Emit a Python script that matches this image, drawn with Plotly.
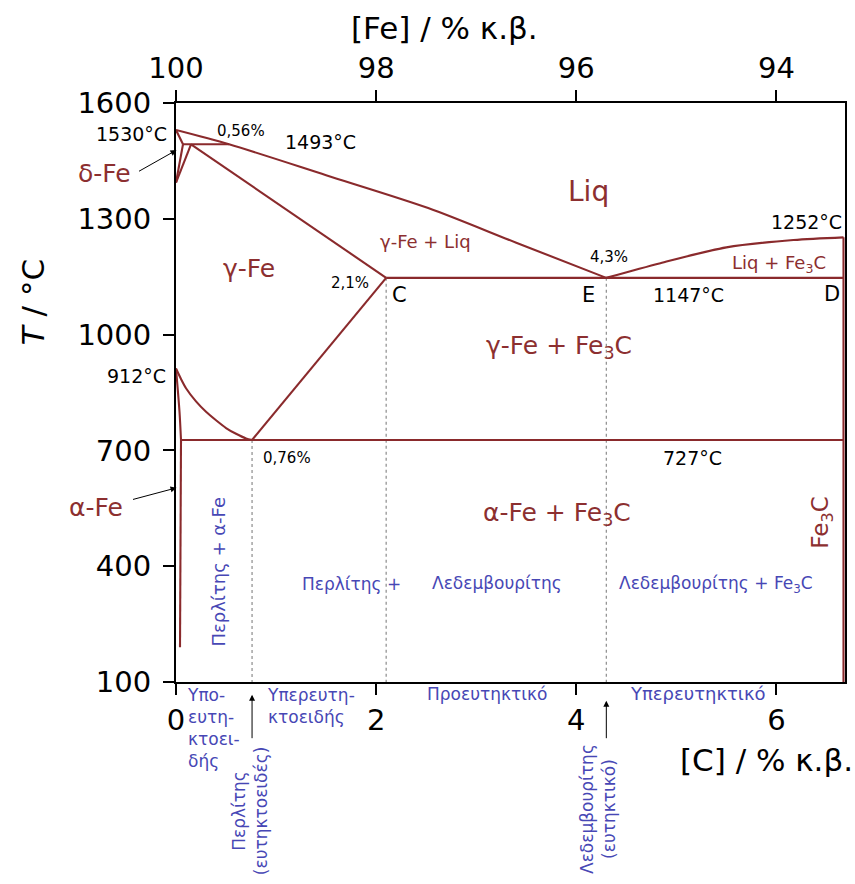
import plotly.graph_objects as go

# ---- Fe–Fe3C phase boundaries: carbon content (wt% C) and temperature (°C) ----
liquidus_gamma_c = [0.0, 0.53, 1.5, 2.52, 3.4, 4.3]
liquidus_gamma_t = [1530, 1493, 1413, 1328, 1238, 1147]

liquidus_fe3c_c = [4.3, 4.84, 5.5, 6.17, 6.67]
liquidus_fe3c_t = [1147, 1185, 1226, 1245, 1252]

delta_solidus_c = [0.0, 0.07]
delta_solidus_t = [1530, 1493]

delta_solvus_c = [0.07, 0.0]
delta_solvus_t = [1493, 1394]

gamma_delta_c = [0.15, 0.0]
gamma_delta_t = [1493, 1394]

peritectic_c = [0.07, 0.53]
peritectic_t = [1493, 1493]

gamma_solidus_c = [0.15, 2.1]
gamma_solidus_t = [1493, 1147]

eutectic_c = [2.1, 6.67]
eutectic_t = [1147, 1147]

a3_c = [0.0, 0.05, 0.1, 0.2, 0.3, 0.4, 0.5, 0.6, 0.7, 0.76]
a3_t = [912, 885, 861, 827, 800, 778, 758, 743, 731, 727]

acm_c = [0.76, 2.1]
acm_t = [727, 1147]

alpha_gamma_c = [0.0, 0.035, 0.05]
alpha_gamma_t = [912, 800, 727]

eutectoid_c = [0.05, 6.67]
eutectoid_t = [727, 727]

alpha_solvus_c = [0.05, 0.04]
alpha_solvus_t = [727, 190]

cementite_c = [6.67, 6.67]
cementite_t = [100, 1252]

# vertical guide compositions (eutectoid, max. solubility in γ, eutectic)
guide_c = [0.76, 2.1, 4.3]
guide_top_t = [727, 1147, 1147]

# axes
c_ticks = [0, 2, 4, 6]
fe_ticks = [100, 98, 96, 94]
t_ticks = [100, 400, 700, 1000, 1300, 1600]
c_max = 6.685
t_range = [100, 1600]

LINE = "#8A2A2C"
PHASE = "#8C2F30"
BLUE = "#4747B5"
FONT = "DejaVu Sans"

fig = go.Figure()

# (c, T, smooth?) for every boundary
boundaries = [
    (liquidus_gamma_c, liquidus_gamma_t, True),
    (liquidus_fe3c_c, liquidus_fe3c_t, True),
    (delta_solidus_c, delta_solidus_t, False),
    (delta_solvus_c, delta_solvus_t, False),
    (gamma_delta_c, gamma_delta_t, False),
    (peritectic_c, peritectic_t, False),
    (gamma_solidus_c, gamma_solidus_t, False),
    (eutectic_c, eutectic_t, False),
    (a3_c, a3_t, True),
    (acm_c, acm_t, False),
    (alpha_gamma_c, alpha_gamma_t, True),
    (eutectoid_c, eutectoid_t, False),
    (alpha_solvus_c, alpha_solvus_t, False),
    (cementite_c, cementite_t, False),
]

for c, t in zip(guide_c, guide_top_t):
    fig.add_trace(go.Scatter(x=[c, c], y=[t, t_range[0]], mode="lines",
                             line=dict(color="#8c8c8c", width=1.2, dash="dot"),
                             hoverinfo="skip", showlegend=False))

for cx, ty, smooth in boundaries:
    fig.add_trace(go.Scatter(x=cx, y=ty, mode="lines",
                             line=dict(color=LINE, width=2.1,
                                       shape="spline" if smooth else "linear",
                                       smoothing=0.8),
                             hoverinfo="skip", showlegend=False))

# invisible trace so the top [Fe] axis is drawn
fig.add_trace(go.Scatter(x=[fe_ticks[0]], y=[t_range[0]], xaxis="x2", mode="markers",
                         marker=dict(opacity=0), hoverinfo="skip", showlegend=False))

ann = []


def label(x, y, text, size, color="black", angle=0, xref="x", yref="y",
          xanchor="center", yanchor="middle", align="center"):
    ann.append(dict(x=x, y=y, xref=xref, yref=yref, text=text, showarrow=False,
                    font=dict(family=FONT, size=size, color=color), textangle=angle,
                    xanchor=xanchor, yanchor=yanchor, align=align))


# phase fields
label(4.12, 1372, "Liq", 28, PHASE)
label(0.73, 1172, "γ-Fe", 25, PHASE)
label(2.49, 1242, "γ-Fe + Liq", 18, PHASE)
label(6.03, 1183, "Liq + Fe<sub>3</sub>C", 18, PHASE)
label(3.83, 968, "γ-Fe + Fe<sub>3</sub>C", 25, PHASE)
label(3.81, 536, "α-Fe + Fe<sub>3</sub>C", 25, PHASE)
label(6.46, 514, "Fe<sub>3</sub>C", 23, PHASE, angle=-90)
label(-0.107, 0.8787, "δ-Fe", 25, PHASE, xref="paper", yref="paper")
label(-0.119, 0.3007, "α-Fe", 25, PHASE, xref="paper", yref="paper")

# invariant points and temperatures
label(-0.066, 0.946, "1530°C", 19, xref="paper", yref="paper")
label(0.645, 1528, "0,56%", 15)
label(1.44, 1499, "1493°C", 19)
label(1.74, 1134, "2,1%", 15)
label(2.23, 1103, "C", 21)
label(4.12, 1103, "E", 21)
label(6.557, 1105, "D", 21)
label(5.125, 1103, "1147°C", 19)
label(4.33, 1201, "4,3%", 15)
label(6.30, 1292, "1252°C", 19)
label(-0.0584, 0.5285, "912°C", 19, xref="paper", yref="paper")
label(1.11, 680, "0,76%", 15)
label(5.16, 680, "727°C", 19)

# microstructures
label(0.425, 385, "Περλίτης + α-Fe", 18, BLUE, angle=-90)
label(1.757, 355, "Περλίτης +", 17, BLUE)
label(3.21, 357, "Λεδεμβουρίτης", 17, BLUE)
label(5.40, 352, "Λεδεμβουρίτης + Fe<sub>3</sub>C", 17, BLUE)

# steel / cast iron classes below the axis
label(0.013, -0.002, "Υπο-<br>ευτη-<br>κτοει-<br>δής", 17, BLUE,
      xref="paper", yref="paper", xanchor="left", yanchor="top", align="left")
label(0.1326, -0.002, "Υπερευτη-<br>κτοειδής", 17, BLUE,
      xref="paper", yref="paper", xanchor="left", yanchor="top", align="left")
label(0.4649, -0.0205, "Προευτηκτικό", 17, BLUE, xref="paper", yref="paper")
label(0.781, -0.0205, "Υπερευτηκτικό", 18, BLUE, xref="paper", yref="paper")
label(0.110, -0.2238, "Περλίτης<br>(ευτηκτοειδές)", 17, BLUE, angle=-90,
      xref="paper", yref="paper")
label(0.6317, -0.220, "Λεδεμβουρίτης<br>(ευτηκτικό)", 17, BLUE, angle=-90,
      xref="paper", yref="paper")

# axis titles
label(0.4006, 1.1289, "[Fe] / % κ.β.", 31, xref="paper", yref="paper")
label(0.882, -0.134, "[C] / % κ.β.", 31, xref="paper", yref="paper")
label(-0.2137, 0.656, "<i>T</i> / °C", 31, angle=-90, xref="paper", yref="paper")

# arrows
arrow = dict(text="", showarrow=True, arrowhead=2, arrowsize=1.2, arrowwidth=1,
             arrowcolor="black")
ann.append(dict(arrow, x=0.005, y=1478, xref="x", yref="y", ax=-39, ay=22))
ann.append(dict(arrow, x=0.005, y=603, xref="x", yref="y", ax=-45, ay=12))
ann.append(dict(arrow, x=guide_c[0], y=-0.0219, xref="x", yref="paper", ax=0, ay=45))
ann.append(dict(arrow, x=guide_c[2], y=-0.0323, xref="x", yref="paper", ax=0, ay=39))

axis_style = dict(showgrid=False, zeroline=False, showline=True, linecolor="black",
                  linewidth=2, ticks="outside", ticklen=11, tickwidth=2,
                  tickcolor="black", tickfont=dict(family=FONT, size=29, color="black"))

fig.update_layout(
    width=855, height=884, autosize=False,
    margin=dict(l=176, r=8, t=103, b=202),
    paper_bgcolor="white", plot_bgcolor="white",
    showlegend=False,
    annotations=ann,
    xaxis=dict(axis_style, range=[0, c_max], tickvals=c_ticks),
    xaxis2=dict(axis_style, range=[fe_ticks[0], fe_ticks[0] - c_max], tickvals=fe_ticks,
                overlaying="x", side="top", anchor="y"),
    yaxis=dict(axis_style, range=t_range, tickvals=t_ticks, mirror=True,
               ticklabelstandoff=6),
)

fig.write_html("out.html")
